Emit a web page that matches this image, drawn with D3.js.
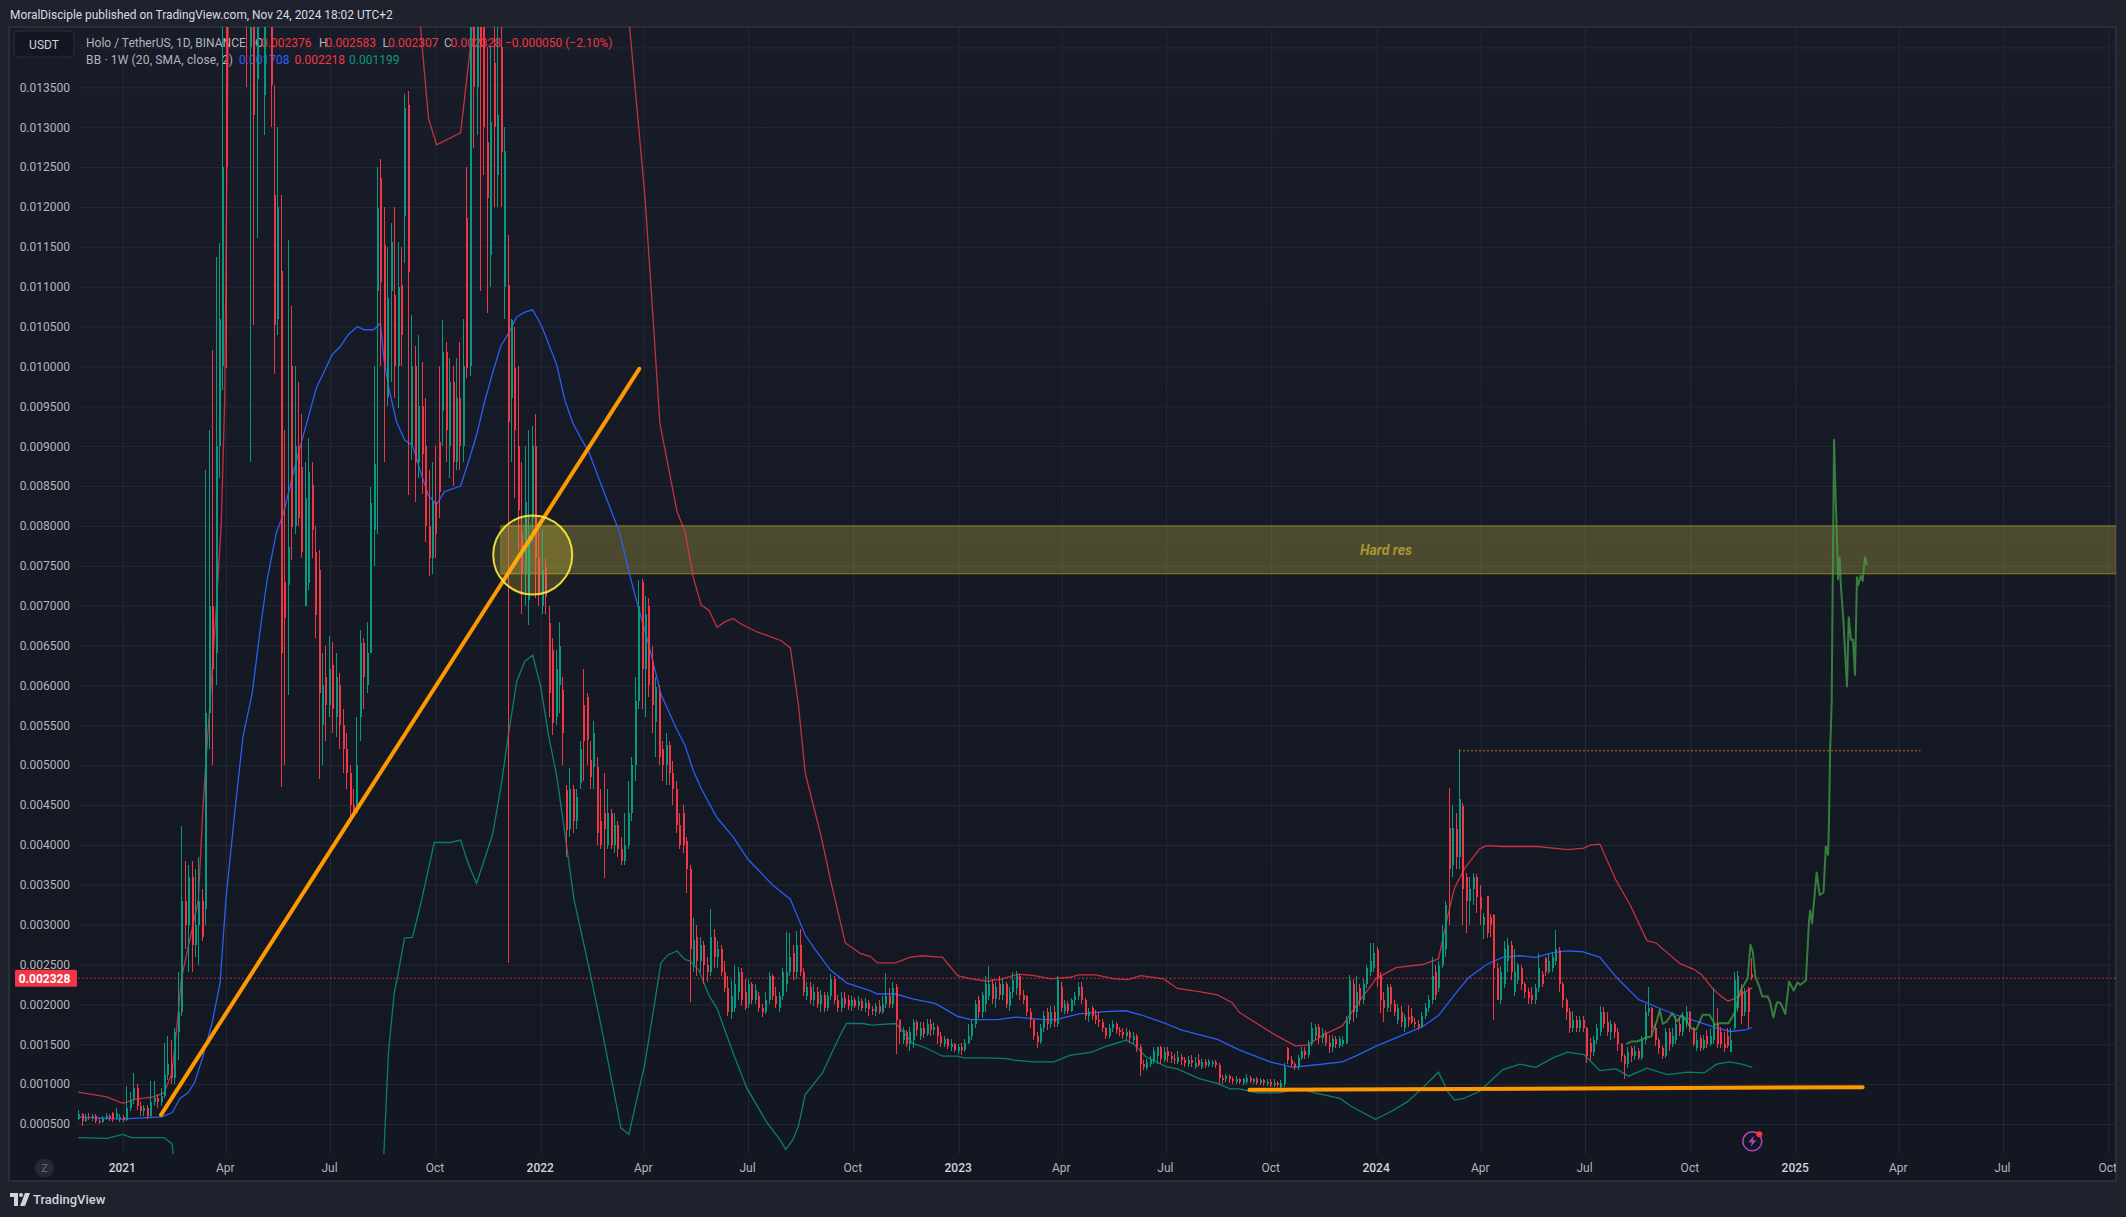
<!DOCTYPE html>
<html><head><meta charset="utf-8">
<script src="https://cdn.jsdelivr.net/npm/d3@7"></script>
<style>html,body{margin:0;padding:0;background:#1e222d;overflow:hidden}svg{display:block}text{font-family:Roboto,"Noto Sans",sans-serif}</style>
</head><body><svg id="c" width="2126" height="1217"></svg>
<script>
// All prices are in units of 0.00001 USDT. Days count from 2021-01-01.
const UNIT = 1e-5;
const CANDLE_FIRST_DAY = -39, CANDLE_STEP = 3;
// flat open,close,high,low per candle, one candle every CANDLE_STEP days
const ohlcLate2020 = [56,62,68,55, 62,54,64,47, 54,59,63,52, 59,57,64,55, 57,60,62,54, 60,54,62,51, 54,52,58,50, 52,57,60,51, 57,60,64,55, 60,58,62,54, 64,56,65,53, 58,64,70,56, 56,59,62,52];
const ohlc2021Q1 = [59,55,61,53, 55,70,98,54, 70,80,90,66, 80,95,114,75, 95,72,100,68, 72,66,78,60, 66,70,74,60, 70,60,74,56, 60,78,104,58, 78,82,104,72, 82,78,88,70, 78,85,95,72, 85,112,152,82, 112,125,160,105, 125,108,155,100, 108,165,170,100, 165,190,240,130, 190,330,424,185, 330,300,380,270, 300,360,375,240, 360,275,380,240, 275,300,370,260, 300,330,385,250, 330,285,345,279, 320,565,870,300, 565,700,920,520, 700,620,1020,500, 640,900,1137,600, 900,1060,1155,860, 1000,1250,1800,970, 1800,1250,2200,998];
const ohlc2021Q2 = [1600,2000,2500,1500, 2000,2300,2800,1800, 2300,1900,2700,1700, 1900,2200,2600,1700, 2200,1800,2400,1600, 1800,1500,2100,1350, 1400,1600,1900,880, 1600,1315,1800,1052, 1360,1600,2000,1161, 1600,1800,2200,1500, 1340,1600,1900,1290, 1600,1500,1800,1450, 1500,1353,1700,1300, 1215,1052,1353,990, 1060,1200,1300,1040, 1120,640,1215,473, 730,685,920,500, 726,774,1159,588, 1000,799,1076,757, 800,900,1000,790, 900,810,981,800, 874,767,940,760, 700,835,880,700, 729,868,910,720, 851,795,880,760, 767,688,800,660, 745,590,770,482, 550,600,640,500, 610,575,650,530, 575,620,662,560];
const ohlc2021Q3 = [625,570,655,540, 560,610,640,535, 600,550,615,520, 550,520,570,490, 520,490,540,470, 490,450,500,430, 450,440,470,435, 440,500,560,440, 560,653,670,530, 653,610,660,570, 600,640,680,590, 640,829,849,640, 795,877,1000,750, 1094,1199,1250,790, 1236,1106,1260,1000, 1152,1002,1200,880, 962,1086,1150,950, 1094,1156,1180,980, 1090,1000,1200,960, 1000,1100,1156,948, 1102,1040,1150,1000, 1188,1324,1341,1130, 1328,1119,1345,839, 900,1000,1065,883, 1000,880,1025,830, 880,950,1040,860, 950,890,1005,840, 900,800,960,780, 800,760,870,737, 760,830,880,740];
const ohlc2021Q4 = [830,790,900,760, 905,843,1000,810, 944,1018,1058,900, 1018,920,1030,880, 900,980,1010,860, 980,880,1000,850, 880,960,1010,870, 960,900,1030,870, 900,1000,1060,880, 1186,998,1250,985, 1000,1500,1700,988, 1500,1350,1800,1274, 1350,1600,2000,1290, 1600,1400,1800,1095, 1450,1300,1500,1240, 1282,1211,1400,1067, 1140,1307,1400,1100, 1380,1300,1500,1200, 1240,1315,1600,1200, 1400,1269,1450,1200, 1100,1270,1300,1060, 1102,930,1165,252, 960,1058,1060,880, 998,920,1050,835, 900,820,1000,770, 790,740,880,690, 740,830,900,700, 707,782,920,676, 810,900,925,780, 900,760,940,710];
const ohlc2022Q1 = [760,715,800,700, 700,745,795,690, 748,711,760,690, 678,590,700,560, 645,553,660,538, 560,620,645,550, 600,650,680,565, 594,540,610,500, 469,419,475,385, 420,470,497,410, 470,430,475,415, 430,460,470,420, 478,520,530,470, 575,530,620,480, 585,532,590,500, 507,485,530,470, 498,540,555,470, 498,415,510,400, 430,400,470,395, 440,420,490,359, 400,440,470,395, 440,400,445,395, 400,425,440,390, 425,395,430,385, 395,380,410,375, 380,400,440,375, 400,440,480,395, 440,500,510,430, 500,580,610,480, 580,700,732,570];
const ohlc2022Q2 = [730,620,733,570, 620,690,712,560, 700,600,710,585, 630,575,650,540, 554,598,610,510, 590,510,600,500, 520,500,530,480, 500,525,540,475, 525,490,530,475, 490,470,505,450, 470,425,480,415, 425,400,440,395, 440,400,450,390, 405,370,410,340, 370,270,375,203, 250,281,308,240, 285,255,300,235, 255,275,285,240, 275,250,280,226, 250,240,260,228, 240,285,320,235, 285,260,295,245, 260,270,280,245, 270,240,275,235, 240,220,255,215, 220,190,235,185, 190,210,230,182, 195,225,250,190, 215,240,247,205, 240,205,245,198];
const ohlc2022Q3 = [215,195,232,193, 200,225,232,195, 225,205,228,200, 205,218,225,200, 210,195,215,190, 195,190,200,184, 190,205,215,188, 205,235,240,200, 235,210,238,205, 210,200,222,195, 195,210,215,190, 210,240,245,205, 225,240,291,215, 240,260,290,235, 265,240,275,230, 240,275,292,232, 275,240,295,235, 240,215,245,210, 210,222,228,205, 222,205,228,200, 205,215,225,198, 215,200,222,195, 200,212,218,190, 212,196,215,190, 196,210,215,192, 210,232,238,205, 232,205,235,200, 205,195,212,190, 195,208,215,190, 208,200,215,195];
const ohlc2022Q4 = [205,198,212,193, 198,205,210,192, 205,198,208,195, 198,204,210,193, 204,196,208,192, 196,202,208,190, 202,194,205,186, 194,192,198,187, 190,198,202,186, 198,190,205,188, 190,200,210,188, 200,210,239,196, 210,200,220,195, 200,221,228,196, 222,180,225,138, 180,165,182,150, 155,168,172,150, 165,150,168,146, 150,165,172,142, 155,178,182,145, 178,168,180,160, 160,170,178,155, 170,163,178,158, 163,176,182,160, 176,168,182,160, 168,172,178,162, 172,160,174,150, 160,152,165,146, 150,156,160,147, 156,148,158,144];
const ohlc2023Q1 = [146,150,156,142, 150,143,152,140, 141,147,150,138, 147,143,152,137, 143,152,156,140, 152,160,176,150, 160,175,180,155, 175,200,205,170, 205,190,210,183, 190,212,216,183, 200,225,235,190, 210,225,248,205, 225,207,232,200, 207,222,228,195, 225,212,235,205, 212,225,232,205, 225,200,228,195, 198,215,222,192, 215,230,241,208, 220,238,242,212, 235,212,238,205, 212,205,218,200, 210,190,212,185, 190,180,195,170, 180,160,182,155, 160,153,165,145, 153,170,175,150, 170,185,192,165, 190,175,196,168, 175,190,198,170];
const ohlc2023Q2 = [190,178,198,172, 175,230,235,172, 222,195,228,190, 192,200,205,188, 200,192,204,188, 192,205,208,190, 205,210,215,198, 210,222,228,205, 222,205,228,200, 205,185,208,180, 185,190,195,178, 195,185,198,180, 187,180,193,175, 180,178,190,172, 178,170,182,165, 170,160,172,156, 160,170,175,158, 170,175,180,165, 175,168,178,163, 168,165,172,160, 165,162,170,157, 160,165,170,155, 165,158,168,152, 155,160,165,150, 160,147,163,140, 147,125,150,110, 125,122,130,118, 120,128,132,118, 125,130,135,122, 128,142,147,125];
const ohlc2023Q3 = [135,146,147,125, 146,132,148,125, 130,140,147,128, 142,135,147,128, 135,132,140,126, 132,130,138,125, 128,134,142,125, 134,130,138,124, 130,127,134,122, 125,130,135,122, 130,126,136,122, 122,127,134,119, 130,124,138,122, 122,128,131,119, 128,124,131,120, 124,129,132,122, 125,128,130,122, 128,124,130,120, 124,108,126,100, 108,105,112,100, 106,110,113,103, 110,106,112,102, 106,104,109,100, 103,106,110,100, 106,103,108,100, 102,106,108,99, 103,108,113,100, 108,104,110,101, 103,106,108,100, 106,102,109,99];
const ohlc2023Q4 = [101,105,108,99, 105,101,107,98, 100,103,106,98, 103,99,106,97, 99,102,106,97, 102,99,104,96, 97,101,105,95, 100,122,126,96, 145,130,147,125, 130,125,135,122, 125,122,128,118, 122,133,136,118, 133,142,146,130, 142,136,147,132, 136,150,155,133, 150,170,178,148, 160,172,176,155, 172,158,176,150, 158,164,170,152, 164,152,168,148, 152,146,162,139, 146,156,162,140, 156,150,160,145, 148,157,160,145, 150,155,160,146, 152,180,186,150, 180,230,237,175, 225,190,232,178, 190,215,235,183, 220,205,225,198];
const ohlc2024Q1 = [205,225,232,200, 225,245,250,220, 240,255,277,235, 245,265,277,240, 268,235,272,222, 235,205,240,189, 205,195,215,178, 195,222,226,190, 222,200,225,190, 200,190,205,185, 180,195,200,175, 190,178,198,172, 170,184,188,165, 184,180,199,172, 185,178,196,175, 178,176,183,170, 176,172,180,168, 172,185,190,170, 185,195,202,182, 195,205,212,190, 205,235,260,200, 240,212,250,205, 220,250,255,215, 250,290,300,245, 270,325,330,260, 421,370,471,300, 375,421,450,360, 420,385,440,370, 385,457,520,370, 449,345,452,300];
const ohlc2024Q2 = [360,330,365,289, 330,345,360,300, 345,360,365,325, 360,335,363,315, 335,320,350,300, 300,310,315,282, 336,290,336,283, 310,300,313,285, 312,245,313,181, 245,205,252,205, 205,240,248,200, 225,270,280,220, 255,275,283,240, 275,240,280,230, 215,240,270,210, 230,250,252,225, 245,225,250,218, 225,215,228,208, 215,208,220,200, 212,205,222,200, 205,220,225,200, 220,245,265,215, 238,225,242,222, 258,240,260,235, 240,255,265,238, 245,260,265,240, 255,270,293,250, 268,225,272,215, 225,205,228,195, 205,190,208,180];
const ohlc2024Q3 = [190,170,195,164, 170,180,192,165, 180,170,185,165, 170,180,186,165, 180,170,186,165, 170,135,172,126, 152,140,158,130, 140,155,160,135, 155,170,175,150, 165,190,198,160, 190,175,197,170, 178,165,190,160, 165,175,180,155, 175,165,178,158, 165,150,170,142, 150,135,152,128, 135,125,138,107, 125,140,146,120, 145,135,148,128, 135,142,148,130, 142,133,145,130, 133,155,160,130, 155,190,200,150, 190,195,222,185, 195,170,197,160, 170,155,175,148, 155,145,158,138, 145,135,148,132, 135,165,170,133, 165,150,170,142];
const ohlc2024Q4 = [150,160,170,146, 155,175,185,150, 175,165,183,160, 165,185,190,160, 175,190,198,170, 190,170,192,165, 170,150,172,148, 145,155,165,142, 158,145,162,142, 145,155,162,143, 160,150,168,145, 150,160,170,148, 155,175,220,150, 175,150,195,145, 165,150,172,145, 150,145,165,140, 160,148,170,145, 140,155,170,141, 170,230,240,168, 195,235,242,190, 218,185,225,175, 190,215,220,185, 220,190,222,170, 238,233,258,231];
// Bollinger bands on the weekly chart: flat day,price pairs
const bbBasis = [-39,59,-2,56,21,58,34,59,43,64,50,82,57,89,63,103,70,135,78,177,85,227,90,331,98,444,105,536,113,590,120,670,126,732,134,791,140,814,149,867,156,905,162,936,169,973,183,1015,190,1025,197,1040,205,1050,211,1046,219,1046,225,1054,228,1010,232,975,239,931,246,908,253,901,260,868,267,838,274,827,281,843,295,850,302,881,309,914,316,956,323,992,330,1025,337,1042,344,1062,351,1068,358,1071,366,1050,379,1002,386,958,393,929,400,910,407,893,414,866,434,791,443,737,450,699,459,653,470,589,484,544,491,525,498,494,505,471,519,434,533,410,546,382,568,349,583,332,596,287,605,268,618,243,632,227,653,217,659,213,675,213,690,207,710,201,729,185,741,181,764,181,780,184,804,181,815,181,835,188,858,191,876,192,889,187,911,176,924,168,956,156,975,143,1002,128,1022,121,1041,124,1065,128,1078,136,1095,148,1112,158,1135,172,1149,186,1163,212,1175,233,1191,250,1205,259,1220,261,1234,259,1249,265,1262,267,1275,266,1290,259,1305,233,1324,206,1339,197,1356,187,1376,178,1391,171,1404,166,1417,168,1423,171];
const bbUpper = [-39,90,-14,84,0,76,10,81,27,84,36,89,43,114,46,155,49,197,51,231,66,331,70,448,81,682,86,804,89,958,91,1262,92,1426,100,1900,200,2200,250,1600,260,1426,264,1359,267,1311,274,1278,295,1293,303,1393,305,1426,320,2200,400,2400,430,1800,442.6,1426,456,1213,463,1063,469,929,477,870,484,818,491,793,498,737,505,701,512,694,519,673,526,680,533,684,540,677,554,667,562,663,575,656,583,647,590,576,596,490,603,450,610,410,618,356,631,277,644,264,653,260,659,252,675,252,687,259,698,261,716,259,729,236,741,232,755,229,768,232,782,238,796,236,811,232,827,234,835,237,850,237,866,232,878,231,889,236,909,232,921,220,940,216,956,212,969,202,975,190,1006,162,1024,148,1034,149,1049,162,1065,173,1080,204,1095,233,1112,246,1135,250,1149,257,1157,310,1163,346,1172,371,1185,395,1191,399,1205,398,1235,398,1262,394,1276,396,1282,400,1290,401,1304,356,1317,323,1331,280,1339,277,1360,251,1372,244,1379,237,1389,219,1396,210,1402,204,1407,207,1423,221];
const bbLower = [-39,33,-14,32,0,37,8,33,36,33,43,25,44,13,50,-20,200,-200,225,-20,228,13,232,139,237,214,240,235,246,283,253,284,261,331,272,403,286,403,295,406,302,375,309,352,323,413,330,471,337,540,344,605,351,630,358,638,365,598,372,536,379,486,386,415,394,332,407,247,419,164,435,45,442,37,456,126,470,252,476,262,484,267,491,256,495,255,503,243,512,211,519,195,533,139,545,95,562,53,574,30,579,18,585,30,590,47,596,87,611,114,626,160,632,176,646,176,654,174,675,176,690,151,702,145,716,135,729,135,735,133,753,133,772,132,778,130,796,128,813,128,827,136,846,140,858,147,876,155,883,150,893,135,911,122,921,119,940,107,956,101,967,94,975,94,991,89,1010,89,1026,95,1041,89,1063,82,1073,72,1094,56,1108,66,1122,78,1135,95,1149,115,1157,91,1163,80,1171,82,1185,91,1205,118,1220,125,1234,121,1249,133,1262,140,1276,137,1290,117,1304,119,1315,110,1331,120,1349,112,1367,115,1381,114,1392,125,1403,128,1414,125,1423,121];
// Hand drawn projection path: flat day,price pairs
const projection = [1313.2,150.5,1317.2,153.4,1322.2,153.4,1327.2,156.4,1330.6,158.9,1334.9,159.7,1337.2,170.1,1339.6,178.5,1342.3,193.1,1344.9,175.6,1348.3,178.5,1353.3,189,1357.3,178.5,1361.6,186.9,1365.6,178.5,1369.7,170.1,1374,168,1379.7,186.9,1385.7,186.9,1390.7,174.3,1394,176.4,1402.4,176.4,1407.4,189,1412.4,216.1,1419.1,232.8,1421.5,274.7,1423.5,266.3,1425.8,234.9,1429.2,222.4,1431.8,209.9,1436.5,209.9,1438.5,203.6,1441.5,183.5,1444.5,202.3,1447.2,202.3,1449.2,197.3,1451.9,188.1,1455.2,228.7,1459.2,217.4,1462.6,227.4,1465.2,224.5,1469.9,229.9,1472.6,303.9,1473.6,317.7,1475.3,301.8,1479.3,365.4,1481.9,337.3,1485.3,340.3,1487.3,398,1489.3,387.5,1490.1,431.4,1491,515,1492.4,577.7,1493.3,724,1494.5,907.9,1495.6,849.4,1497.4,765.8,1498,733.2,1499.4,760.4,1500.3,728.2,1502.6,682.2,1505.8,598.6,1507.3,685.5,1509.3,657.1,1511.1,657.1,1512.8,613.2,1514.5,735.7,1515.7,726.1,1517.7,737.4,1519.5,731.1,1521.5,760.8,1523.3,751.2];
const trendLine = [33.4,61.5,451,997];
const supportLine = [984,92.8,1519.5,96.2];
const dottedLevelLine = [1167,518,1570,518];
const resistanceZone = [330,800,740];
const lastPrice = 232.8;
// Tick labels
const priceTicks = d3.range(1,29).map(i=>i*0.0005);
const labelledPriceTicks = d3.range(1,28).map(i=>i*0.0005);
const timeTickDates = [[2021,0],[2021,3],[2021,6],[2021,9],[2022,0],[2022,3],[2022,6],[2022,9],[2023,0],[2023,3],[2023,6],[2023,9],[2024,0],[2024,3],[2024,6],[2024,9],[2025,0],[2025,3],[2025,6],[2025,9]];
const timeTickLabels = ["2021","Apr","Jul","Oct","2022","Apr","Jul","Oct","2023","Apr","Jul","Oct","2024","Apr","Jul","Oct","2025","Apr","Jul","Oct"];

const L={l:9,pl:78,r:2116,t:27,b:1154,bb:1181};
const GRID="#252934",TXT="#b2b5be",RED="#f23645",GRN="#089981",BLU="#2962ff",ORG="#ff9800";
const day0=Date.UTC(2021,0,1), date=d=>new Date(day0+d*864e5);
const x=d3.scaleUtc().domain([date(0),date(1461)]).range([122.8,1795.7]);
const y=d3.scaleLinear().domain([0.0005,0.0135]).range([1124,87.3]);
const pairs=a=>d3.range(0,a.length,2).map(i=>[a[i],a[i+1]]);
const px=d=>x(date(d)), py=p=>y(p*UNIT);

const svg=d3.select("#c");
const defs=svg.append("defs");
const g=defs.append("linearGradient").attr("id","bg").attr("x1",0).attr("x2",0).attr("y1",0).attr("y2",1);
g.append("stop").attr("offset",0).attr("stop-color","#181c28");
g.append("stop").attr("offset",1).attr("stop-color","#131722");
defs.append("clipPath").attr("id","plot").append("rect").attr("x",L.pl).attr("y",L.t).attr("width",L.r-L.pl).attr("height",L.b-L.t);
defs.append("clipPath").attr("id","panel").append("rect").attr("x",L.l).attr("y",L.t).attr("width",L.r-L.l).attr("height",L.bb-L.t);

svg.append("rect").attr("width",2126).attr("height",1217).attr("fill","#1e222d");
svg.append("rect").attr("x",L.l).attr("y",L.t).attr("width",L.r-L.l).attr("height",L.bb-L.t).attr("fill","url(#bg)").attr("stroke","#2a2e39").attr("stroke-width",2);
svg.append("text").attr("x",10).attr("y",19).attr("font-size",11.9).attr("font-weight",400).attr("fill","#d8dbe3").text("MoralDisciple published on TradingView.com, Nov 24, 2024 18:02 UTC+2");

// Grid
const timeTicks=timeTickDates.map(d=>new Date(Date.UTC(d[0],d[1],1)));
const gridG=svg.append("g").attr("clip-path","url(#plot)");
gridG.append("g").attr("transform",`translate(${L.pl},0)`).call(d3.axisRight(y).tickValues(priceTicks).tickSize(L.r-L.pl).tickFormat("")).call(s=>{s.select(".domain").remove();s.selectAll("line").attr("stroke",GRID);});
gridG.append("g").attr("transform",`translate(0,${L.t})`).call(d3.axisBottom(x).tickValues(timeTicks).tickSize(L.b-L.t).tickFormat("")).call(s=>{s.select(".domain").remove();s.selectAll("line").attr("stroke",GRID);});

// Price axis
svg.append("g").attr("transform","translate(78,0)").call(d3.axisLeft(y).tickValues(labelledPriceTicks.filter(v=>v<=0.01351)).tickSize(0).tickPadding(8).tickFormat(d3.format(".6f")))
 .call(s=>{s.select(".domain").remove();s.selectAll("text").attr("font-size",12).attr("fill",TXT).attr("font-family","Roboto");});
// Time axis
svg.append("g").attr("clip-path","url(#panel)").append("g").attr("transform",`translate(-1,${L.b+6})`).call(d3.axisBottom(x).tickValues(timeTicks).tickSize(0).tickPadding(3).tickFormat((d,i)=>timeTickLabels[i]))
 .call(s=>{s.select(".domain").remove();s.selectAll("text").attr("font-size",12).attr("font-family","Roboto").attr("fill",(d,i)=>/^20/.test(timeTickLabels[i])?"#d1d4dc":TXT).attr("font-weight",(d,i)=>/^20/.test(timeTickLabels[i])?500:400);});

// Legend
const legend=svg.append("g").attr("font-size",12);
legend.append("text").attr("x",86).attr("y",47).attr("fill",TXT).text("Holo / TetherUS, 1D, BINANCE");
[["O",255,TXT],["0.002376",261,RED],["H",319,TXT],["0.002583",325.5,RED],["L",382.6,TXT],["0.002307",388,RED],["C",444,TXT],["0.002328",450.5,RED],["−0.000050 (−2.10%)",505,RED]].forEach(t=>legend.append("text").attr("x",t[1]).attr("y",47).attr("fill",t[2]).text(t[0]));
legend.append("text").attr("x",86).attr("y",64).attr("fill",TXT).attr("letter-spacing",.15).text("BB · 1W (20, SMA, close, 2)");
[["0.001708",239,BLU],["0.002218",294.6,RED],["0.001199",349,GRN]].forEach(t=>legend.append("text").attr("x",t[1]).attr("y",64).attr("fill",t[2]).text(t[0]));
const btn=svg.append("g");
btn.append("rect").attr("x",14).attr("y",31).attr("width",60).attr("height",26).attr("rx",4).attr("fill","#131722").attr("stroke","#2a2e39");
btn.append("text").attr("x",44).attr("y",48.5).attr("text-anchor","middle").attr("font-size",12).attr("fill","#d1d4dc").text("USDT");

// Plot content
const plot=svg.append("g").attr("clip-path","url(#plot)");
plot.append("rect").attr("x",px(resistanceZone[0])).attr("y",py(resistanceZone[1])).attr("width",L.r-px(resistanceZone[0])).attr("height",py(resistanceZone[2])-py(resistanceZone[1])).attr("fill","#f7e04a").attr("fill-opacity",.24);
[resistanceZone[1],resistanceZone[2]].forEach(v=>plot.append("line").attr("x1",px(resistanceZone[0])).attr("x2",L.r).attr("y1",py(v)).attr("y2",py(v)).attr("stroke","#8a7f2f").attr("stroke-width",1));
plot.append("line").attr("x1",px(resistanceZone[0])).attr("x2",px(resistanceZone[0])).attr("y1",py(resistanceZone[1])).attr("y2",py(resistanceZone[2])).attr("stroke","#8a7f2f").attr("stroke-opacity",.5);

const line=d3.line().x(d=>px(d[0])).y(d=>py(d[1]));
[[bbUpper,RED,.8],[bbLower,GRN,.8],[bbBasis,BLU,.95]].forEach(([a,c,o])=>plot.append("path").attr("d",line(pairs(a))).attr("fill","none").attr("stroke",c).attr("stroke-opacity",o).attr("stroke-width",1.3));

const allOhlc=[ohlcLate2020,ohlc2021Q1,ohlc2021Q2,ohlc2021Q3,ohlc2021Q4,ohlc2022Q1,ohlc2022Q2,ohlc2022Q3,ohlc2022Q4,ohlc2023Q1,ohlc2023Q2,ohlc2023Q3,ohlc2023Q4,ohlc2024Q1,ohlc2024Q2,ohlc2024Q3,ohlc2024Q4].flat();
const candles=d3.range(0,allOhlc.length,4).map((i,k)=>({d:CANDLE_FIRST_DAY+k*CANDLE_STEP,o:allOhlc[i],c:allOhlc[i+1],h:allOhlc[i+2],l:allOhlc[i+3]}));
const cg=plot.append("g").attr("shape-rendering","crispEdges");
const col=d=>d.c>=d.o?GRN:RED;
cg.selectAll(".w").data(candles).join("line").attr("x1",d=>Math.round(px(d.d))+.5).attr("x2",d=>Math.round(px(d.d))+.5).attr("y1",d=>py(d.h)).attr("y2",d=>py(d.l)).attr("stroke",col);
cg.selectAll(".b").data(candles).join("rect").attr("x",d=>Math.round(px(d.d))).attr("width",2).attr("y",d=>py(Math.max(d.o,d.c))).attr("height",d=>Math.max(1,Math.abs(py(d.o)-py(d.c)))).attr("fill",col);

plot.append("line").attr("x1",L.pl).attr("x2",L.r).attr("y1",py(lastPrice)).attr("y2",py(lastPrice)).attr("stroke",RED).attr("stroke-width",1).attr("stroke-dasharray","1.5 2.5");
plot.append("line").attr("x1",px(dottedLevelLine[0])).attr("x2",px(dottedLevelLine[2])).attr("y1",py(dottedLevelLine[1])).attr("y2",py(dottedLevelLine[3])).attr("stroke",ORG).attr("stroke-opacity",.7).attr("stroke-dasharray","2 2");
plot.append("path").attr("d",line(pairs(projection))).attr("fill","none").attr("stroke","#43a047").attr("stroke-opacity",.75).attr("stroke-width",2).attr("stroke-linejoin","round");
[trendLine,supportLine].forEach(a=>plot.append("line").attr("x1",px(a[0])).attr("y1",py(a[1])).attr("x2",px(a[2])).attr("y2",py(a[3])).attr("stroke",ORG).attr("stroke-width",4).attr("stroke-linecap","round"));
plot.append("circle").attr("cx",532.7).attr("cy",555).attr("r",39.5).attr("fill","#ffeb3b").attr("fill-opacity",.2).attr("stroke","#ffeb3b").attr("stroke-width",2).attr("stroke-opacity",.9);
plot.append("text").attr("x",1386).attr("y",py((resistanceZone[1]+resistanceZone[2])/2)+5).attr("text-anchor","middle").attr("font-size",14).attr("font-weight",700).attr("font-style","italic").attr("fill","#a8962f").text("Hard res");

// Price label
svg.append("rect").attr("x",15).attr("y",py(lastPrice)-8.5).attr("width",62).attr("height",17).attr("rx",1.5).attr("fill",RED);
svg.append("text").attr("x",44.5).attr("y",py(lastPrice)+4.3).attr("text-anchor","middle").attr("font-size",12).attr("font-weight",700).attr("fill","#fff").text(d3.format(".6f")(lastPrice*UNIT));

// Ornaments
svg.append("circle").attr("cx",44.6).attr("cy",1168).attr("r",9.5).attr("fill","#252934");
svg.append("text").attr("x",44.6).attr("y",1172).attr("text-anchor","middle").attr("font-size",11).attr("fill","#6a6d78").text("Z");
const bolt=svg.append("g").attr("transform","translate(1752.3,1141.3)");
bolt.append("circle").attr("r",9.5).attr("fill","none").attr("stroke","#ab47bc").attr("stroke-width",1.6);
bolt.append("path").attr("d","M1.5 -5.5 L-4 1 H-0.5 L-1.5 5.5 L4 -1 H0.5 Z").attr("fill","#ab47bc");
bolt.append("circle").attr("cx",7).attr("cy",-7).attr("r",3).attr("fill",RED);
const logo=svg.append("g").attr("fill","#d1d4dc");
logo.append("path").attr("d","M10 1193H18V1206H14V1197H10Z M25 1193H30L25 1206H20Z");
logo.append("circle").attr("cx",21).attr("cy",1195).attr("r",2);
svg.append("text").attr("x",33).attr("y",1204).attr("font-size",13).attr("font-weight",500).attr("fill","#d1d4dc").text("TradingView");
</script></body></html>
